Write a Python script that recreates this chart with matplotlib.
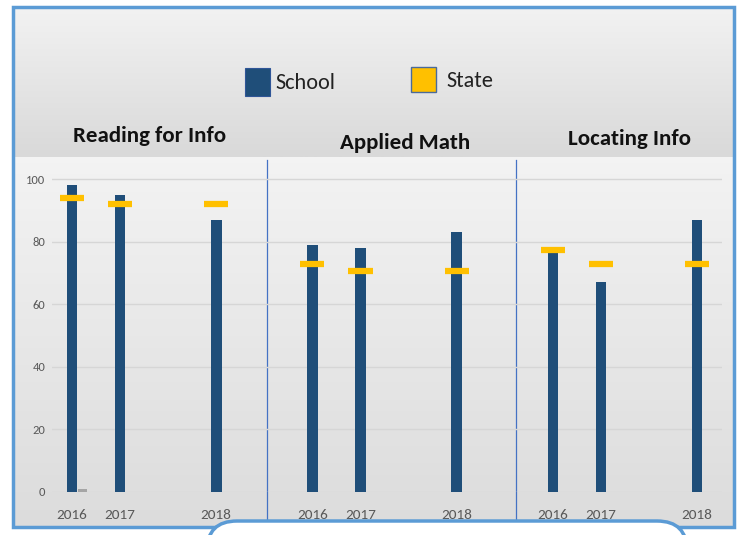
import numpy as np
import matplotlib
matplotlib.use("Agg")
import matplotlib.pyplot as plt
from matplotlib.patches import Rectangle, FancyBboxPatch

# data
subjects = ["Reading for Info", "Applied Math", "Locating Info"]
years = ["2016", "2017", "2018"]
school = [[98, 95, 87], [79, 78, 83], [77, 67, 87]]
state = [[94, 92, 92], [73, 70.5, 70.5], [77.3, 73, 73]]
other_2016_reading = 1  # tiny grey bar beside Reading 2016

FONT = ["Carlito", "Liberation Sans", "DejaVu Sans"]
plt.rcParams["font.family"] = FONT

W, H = 742, 535
fig = plt.figure(figsize=(W / 100, H / 100), dpi=100)

# background, drawn in pixel coordinates
bg = fig.add_axes([0, 0, 1, 1])
bg.set_xlim(0, W)
bg.set_ylim(H, 0)
bg.axis("off")

def vgrad(x0, x1, y0, y1, c0, c1):
    g = np.linspace(0, 1, 64)[:, None, None]
    c0 = np.array(matplotlib.colors.to_rgb(c0))
    c1 = np.array(matplotlib.colors.to_rgb(c1))
    img = c0 * (1 - g) + c1 * g
    bg.imshow(img, extent=(x0, x1, y1, y0), aspect="auto", zorder=0)

vgrad(13, 734, 7, 157, "#f2f2f2", "#d9d9d9")
vgrad(13, 734, 157, 527, "#f3f3f3", "#dcdcdc")
bg.add_patch(Rectangle((13, 7), 721, 520, fill=False, ec="#5b9bd5", lw=2.5, zorder=3))
# panel separators
for xs in (267, 516):
    bg.plot([xs, xs], [160, 522], color="#4472c4", lw=0.9, zorder=2)
# legend
bg.add_patch(Rectangle((245, 68), 25, 28, fc="#1f4e79", ec="#2f5597", lw=0.8, zorder=3))
bg.text(275, 83, "School", fontsize=16, va="center", ha="left", color="#222222")
bg.add_patch(Rectangle((411, 67), 25, 25, fc="#ffc000", ec="#4a6a9a", lw=1.0, zorder=3))
bg.text(446, 81, "State", fontsize=16, va="center", ha="left", color="#222222")
# panel titles
for s, (xc, yc) in zip(subjects, [(150, 136), (405, 143), (630, 139)]):
    bg.text(xc, yc, s, fontsize=16.5, weight="bold", ha="center", va="center", color="#111111")
# callout shape poking in at the bottom
bg.add_patch(FancyBboxPatch((207, 521), 480, 60, boxstyle="round,pad=0,rounding_size=30",
                            fc="white", ec="#5b9bd5", lw=2.5, zorder=4, clip_on=False))

# chart axes
x0, x1 = 52, 722
ytop, y0 = 160, 492
ax = fig.add_axes([x0 / W, 1 - y0 / H, (x1 - x0) / W, (y0 - ytop) / H])
ax.patch.set_alpha(0)
px_per_unit = (492 - 179) / 100
ax.set_ylim(0, (y0 - ytop) / px_per_unit)
step = 48.08
ax.set_xlim(-(72 - x0) / step, (x1 - 72) / step)

pos = np.array([[5 * i, 5 * i + 1, 5 * i + 3] for i in range(len(subjects))])

for i in range(len(subjects)):
    ax.bar(pos[i], school[i], width=0.22, color="#1f4e79", zorder=2)
    ax.hlines(state[i], pos[i] - 0.25, pos[i] + 0.25, color="#ffc000", lw=4.5, zorder=3)
ax.bar(pos[0][0] + 0.22, other_2016_reading, width=0.18, color="#a5a5a5", zorder=2)

ax.set_yticks([0, 20, 40, 60, 80, 100])
ax.grid(axis="y", color="#d6d6d6", lw=1, zorder=0)
ax.set_xticks(pos.ravel())
ax.set_xticklabels(years * 3)
for sp in ax.spines.values():
    sp.set_visible(False)
ax.tick_params(axis="y", length=0, pad=5, labelsize=9, labelcolor="#595959")
ax.tick_params(axis="x", length=0, pad=12, labelsize=11, labelcolor="#595959")
ax.set_axisbelow(True)

fig.savefig("out.png", dpi=100)
